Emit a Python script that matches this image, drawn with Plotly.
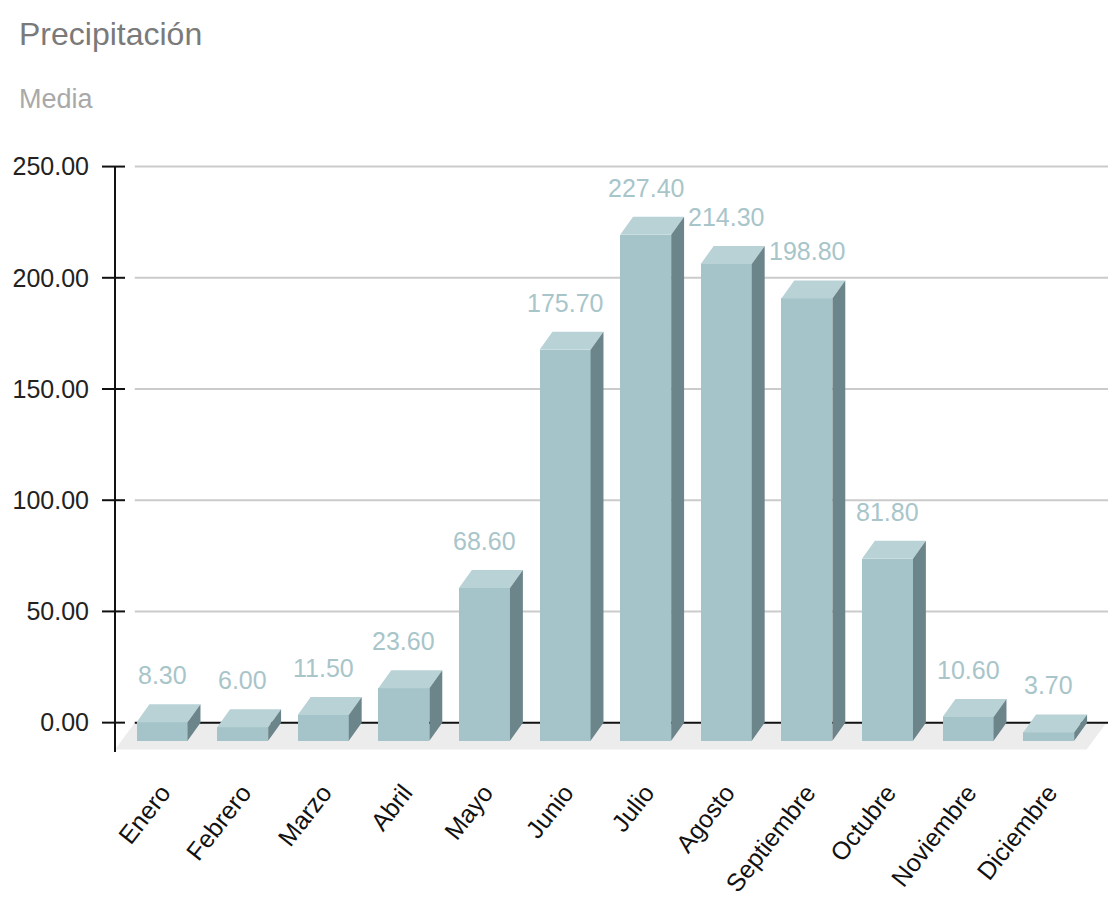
import plotly.graph_objects as go

# ---------------- data ----------------
months = ["Enero", "Febrero", "Marzo", "Abril", "Mayo", "Junio", "Julio",
          "Agosto", "Septiembre", "Octubre", "Noviembre", "Diciembre"]
precip = [8.30, 6.00, 11.50, 23.60, 68.60, 175.70, 227.40,
          214.30, 198.80, 81.80, 10.60, 3.70]
y_ticks = [0, 50, 100, 150, 200, 250]

title_text = "Precipitación"
subtitle_text = "Media"

# ---------------- style / geometry ----------------
NARROW = "Liberation Sans, Arial, sans-serif"
REG = "Liberation Sans, Arial, sans-serif"
FRONT = "#a5c4c9"
TOP = "#b9d2d6"
SIDE = "#6b858b"
LABEL = "#a8c5ca"
FLOOR = "#ececec"
GRID = "#cbcbcb"

BAR_W = 0.633      # front face width (category units)
DX = 0.16          # depth offset, x (category units)
DY = 8.1           # depth offset, y (value units)
FLOOR_DX = 0.245
FLOOR_DY = 12.1
X_RANGE = [-0.744, 11.576]
Y_RANGE = [-13.2, 257.9]

xs = list(range(len(months)))
front_c = [x - DX for x in xs]

fig = go.Figure()

# front faces
fig.add_trace(go.Bar(x=front_c, y=precip, base=-DY, width=BAR_W,
                     marker=dict(color=FRONT, line=dict(width=0)),
                     hoverinfo="skip", showlegend=False))

# top and side faces (from the data)
top_x, top_y, side_x, side_y = [], [], [], []
for c, v in zip(front_c, precip):
    l, r = c - BAR_W / 2, c + BAR_W / 2
    top_x += [l, r, r + DX, l + DX, l, None]
    top_y += [v - DY, v - DY, v, v, v - DY, None]
    side_x += [r, r + DX, r + DX, r, r, None]
    side_y += [v - DY, v, 0, -DY, v - DY, None]

fig.add_trace(go.Scatter(x=top_x, y=top_y, mode="lines", fill="toself",
                         fillcolor=TOP, line=dict(width=0, color=TOP),
                         hoverinfo="skip", showlegend=False))
fig.add_trace(go.Scatter(x=side_x, y=side_y, mode="lines", fill="toself",
                         fillcolor=SIDE, line=dict(width=0, color=SIDE),
                         hoverinfo="skip", showlegend=False))

shapes = []
bx0 = X_RANGE[0] + FLOOR_DX
bx1 = X_RANGE[1] - 0.02
# floor
shapes.append(dict(type="path", xref="x", yref="y", layer="below",
                   path=f"M {bx0},0 L {bx1},0 L {bx1 - FLOOR_DX},{-FLOOR_DY} "
                        f"L {bx0 - FLOOR_DX},{-FLOOR_DY} Z",
                   fillcolor=FLOOR, line=dict(width=0)))
# gridlines on back wall
for t in y_ticks:
    shapes.append(dict(type="line", xref="x", yref="y", layer="below",
                       x0=bx0, x1=X_RANGE[1], y0=t, y1=t,
                       line=dict(color="#111111" if t == 0 else GRID, width=2)))
# y axis line
shapes.append(dict(type="line", xref="paper", yref="y", x0=0, x1=0,
                   y0=Y_RANGE[0], y1=y_ticks[-1],
                   line=dict(color="#111111", width=2)))
# crossing tick marks
for t in y_ticks:
    shapes.append(dict(type="line", xref="paper", yref="y", xsizemode="pixel",
                       xanchor=0, x0=-13, x1=10, y0=t, y1=t,
                       line=dict(color="#111111", width=2)))

annotations = []
for c, v in zip(front_c, precip):
    annotations.append(dict(x=c, y=v, xref="x", yref="y", text=f"{v:.2f}",
                            showarrow=False, yanchor="bottom", yshift=13,
                            font=dict(family=NARROW, size=25, color=LABEL)))
annotations.append(dict(x=(17 - 115) / 993, y=1.083, xref="paper", yref="paper",
                        text=subtitle_text, showarrow=False, xanchor="left",
                        yanchor="middle",
                        font=dict(family=NARROW, size=27, color="#a9a9a9")))

fig.update_layout(
    width=1114, height=897,
    margin=dict(l=115, r=6, t=149, b=145, autoexpand=False),
    paper_bgcolor="white", plot_bgcolor="white",
    showlegend=False, bargap=0,
    title=dict(text=title_text, xref="container", yref="container",
               x=19 / 1114, xanchor="left", y=1 - 34 / 897, yanchor="middle",
               automargin=False,
               font=dict(family=NARROW, size=32, color="#7a7a7a")),
    xaxis=dict(range=X_RANGE, tickvals=front_c, ticktext=months, tickangle=-52,
               showgrid=False, zeroline=False, showline=False, ticks="",
               ticklabelstandoff=20, automargin=False,
               tickfont=dict(family=REG, size=25, color="#111111")),
    yaxis=dict(range=Y_RANGE, tickvals=y_ticks, tickformat=".2f",
               showgrid=False, zeroline=False, showline=False, ticks="",
               ticklabelstandoff=25, automargin=False,
               tickfont=dict(family=NARROW, size=25, color="#222222")),
    shapes=shapes, annotations=annotations,
)

fig.write_html("out.html")
